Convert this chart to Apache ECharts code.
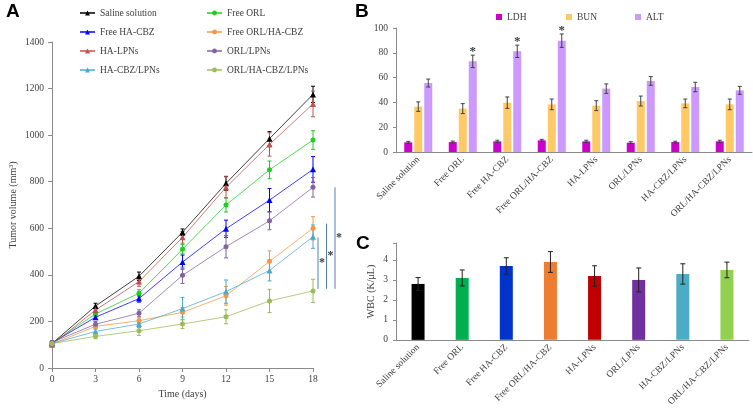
<!DOCTYPE html>
<html><head><meta charset="utf-8">
<script src="https://cdn.jsdelivr.net/npm/echarts@6/dist/echarts.min.js"></script>
<style>html,body{margin:0;padding:0;background:#fff}#c{width:753px;height:409px}</style>
</head><body><div id="c"></div>
<script>
// ---------- Panel A data ----------
const days = [0, 3, 6, 9, 12, 15, 18];
const groupNames = ['Saline solution','Free ORL','Free HA-CBZ','Free ORL/HA-CBZ','HA-LPNs','ORL/LPNs','HA-CBZ/LPNs','ORL/HA-CBZ/LPNs'];
const volSaline       = [105, 266, 394, 583, 793, 985, 1175];
const volFreeORL      = [107, 232, 321, 510, 700, 851, 979];
const volFreeHACBZ    = [108, 218, 298, 455, 598, 721, 853];
const volFreeORLHACBZ = [103, 179, 203, 239, 310, 458, 600];
const volHALPNs       = [100, 249, 371, 561, 776, 960, 1134];
const volORLLPNs      = [110, 188, 235, 398, 521, 632, 776];
const volHACBZLPNs    = [105, 157, 189, 255, 328, 419, 564];
const volORLHACBZLPNs = [105, 136, 160, 189, 220, 288, 331];
const errSaline       = [8, 12, 18, 14, 30, 30, 35];
const errFreeORL      = [8, 10, 15, 20, 30, 38, 40];
const errFreeHACBZ    = [8, 10, 15, 30, 37, 50, 55];
const errFreeORLHACBZ = [8, 10, 12, 20, 40, 45, 50];
const errHALPNs       = [8, 12, 20, 25, 45, 50, 55];
const errORLLPNs      = [8, 12, 15, 35, 48, 38, 42];
const errHACBZLPNs    = [8, 10, 15, 48, 50, 45, 50];
const errORLHACBZLPNs = [8, 10, 20, 20, 30, 50, 50];
// significance brackets at day 18: [low, high]
const sigBrackets = [[340, 560], [340, 620], [340, 776]];
const volTicks = [0, 200, 400, 600, 800, 1000, 1200, 1400];

// ---------- Panel B data ----------
const bioNames = ['LDH', 'BUN', 'ALT'];
const ldh    = [7.8, 8.0, 8.6, 9.4, 8.6, 7.5, 8.0, 8.6];
const ldhErr = [0.8, 0.8, 0.9, 0.8, 0.9, 0.8, 0.7, 0.9];
const bun    = [36.6, 35.0, 39.8, 38.4, 37.4, 41.1, 39.2, 38.4];
const bunErr = [3.8, 4.0, 4.6, 4.3, 4.0, 4.0, 3.5, 4.3];
const alt    = [55.6, 73.1, 81.2, 89.8, 51.1, 57.3, 52.4, 49.7];
const altErr = [3.2, 5.0, 5.0, 5.4, 3.8, 3.5, 3.8, 3.2];
const altSig = ['', '*', '*', '*', '', '', '', ''];

// ---------- Panel C data ----------
const wbc    = [2.8, 3.1, 3.7, 3.9, 3.2, 3.0, 3.3, 3.5];
const wbcErr = [0.32, 0.40, 0.41, 0.52, 0.51, 0.60, 0.51, 0.39];

// ---------- styles ----------
const FONT = 'Liberation Serif';
const TXT = '#404040';
const AX = '#8a8a8a';
const lineColors = ['#000000','#22CC22','#0000FF','#F79646','#C0504D','#8064A2','#4BACC6','#9BBB59'];
const lineSymbols = ['triangle','circle','triangle','circle','triangle','circle','triangle','circle'];
const bioColors = ['#CC00CC', '#FFC966', '#CC99FF'];
const wbcColors = ['#000000','#00B050','#0033CC','#ED7D31','#C00000','#7030A0','#4BACC6','#92D050'];

const volSeries = [volSaline, volFreeORL, volFreeHACBZ, volFreeORLHACBZ, volHALPNs, volORLLPNs, volHACBZLPNs, volORLHACBZLPNs];
const errSeries = [errSaline, errFreeORL, errFreeHACBZ, errFreeORLHACBZ, errHALPNs, errORLLPNs, errHACBZLPNs, errORLHACBZLPNs];

function errRender(color, dx, cap, sigArr) {
  return function (params, api) {
    const x = api.value(0), y = api.value(1), e = api.value(2);
    const t = api.coord([x, y + e]), b = api.coord([x, y - e]);
    const cx = t[0] + dx;
    const st = { stroke: color, lineWidth: 1 };
    const ch = [
      { type: 'line', shape: { x1: cx, y1: t[1], x2: cx, y2: b[1] }, style: st },
      { type: 'line', shape: { x1: cx - cap, y1: t[1], x2: cx + cap, y2: t[1] }, style: st },
      { type: 'line', shape: { x1: cx - cap, y1: b[1], x2: cx + cap, y2: b[1] }, style: st }
    ];
    if (sigArr && sigArr[params.dataIndex]) {
      ch.push({ type: 'text', style: { text: sigArr[params.dataIndex], x: cx, y: t[1] + 3, align: 'center', verticalAlign: 'bottom', fontSize: 13, fontWeight: 'bold', fill: '#404040', fontFamily: FONT } });
    }
    return { type: 'group', children: ch };
  };
}

const series = [];
volSeries.forEach((v, i) => {
  series.push({
    name: groupNames[i], type: 'line', xAxisIndex: 0, yAxisIndex: 0,
    data: days.map((d, k) => [d, v[k]]),
    symbol: lineSymbols[i], symbolSize: lineSymbols[i] === 'triangle' ? 6 : 5,
    itemStyle: { color: lineColors[i] },
    lineStyle: { color: lineColors[i], width: 1, opacity: 0.75 },
    z: 3, animation: false
  });
  series.push({
    name: 'err' + i, type: 'custom', xAxisIndex: 0, yAxisIndex: 0,
    data: days.map((d, k) => [d, v[k], errSeries[i][k]]),
    renderItem: errRender(lineColors[i], 0, 2, null),
    itemStyle: { opacity: 0.6 }, z: 2, animation: false, silent: true
  });
});
// significance brackets
series.push({
  name: 'sig', type: 'custom', xAxisIndex: 0, yAxisIndex: 0,
  data: sigBrackets.map(b => [days[days.length - 1], b[0], b[1]]),
  renderItem: function (params, api) {
    const lo = api.coord([api.value(0), api.value(1)]);
    const hi = api.coord([api.value(0), api.value(2)]);
    const x = lo[0] + 5 + params.dataIndex * 8.5;
    return { type: 'group', children: [
      { type: 'line', shape: { x1: x, y1: lo[1], x2: x, y2: hi[1] }, style: { stroke: '#4F81BD', lineWidth: 1 } },
      { type: 'text', style: { text: '*', x: x + 4, y: (lo[1] + hi[1]) / 2, align: 'center', verticalAlign: 'middle', fontSize: 12, fontWeight: 'bold', fill: '#404040', fontFamily: FONT } }
    ] };
  },
  clip: false, z: 4, animation: false, silent: true
});

// Panel B
const bioVals = [ldh, bun, alt], bioErrs = [ldhErr, bunErr, altErr];
bioNames.forEach((n, j) => {
  series.push({
    name: n, type: 'bar', xAxisIndex: 1, yAxisIndex: 1,
    data: bioVals[j], barWidth: 8, barGap: '25%',
    itemStyle: { color: bioColors[j] }, animation: false
  });
});
bioNames.forEach((n, j) => {
  series.push({
    name: 'berr' + j, type: 'custom', xAxisIndex: 1, yAxisIndex: 1,
    data: bioVals[j].map((v, k) => [k, v, bioErrs[j][k]]),
    renderItem: errRender('#404040', (j - 1) * 10, 2, j === 2 ? altSig : null),
    z: 5, animation: false, silent: true, clip: false
  });
});

// Panel C
series.push({
  name: 'WBC', type: 'bar', xAxisIndex: 2, yAxisIndex: 2,
  data: wbc.map((v, k) => ({ value: v, itemStyle: { color: wbcColors[k] } })),
  barWidth: 13, animation: false
});
series.push({
  name: 'werr', type: 'custom', xAxisIndex: 2, yAxisIndex: 2,
  data: wbc.map((v, k) => [k, v, wbcErr[k]]),
  renderItem: errRender('#202020', 0, 2.5, null),
  z: 5, animation: false, silent: true, clip: false
});

const legendTxt = { fontFamily: FONT, fontSize: 9.5, color: '#404040' };
const col1 = [groupNames[0], groupNames[2], groupNames[4], groupNames[6]];
const col2 = [groupNames[1], groupNames[3], groupNames[5], groupNames[7]];

const catLabel = { fontFamily: FONT, fontSize: 9.5, color: TXT, rotate: 45, margin: 6, interval: 0 };
const letterStyle = { fontFamily: 'Liberation Sans', fontWeight: 'bold', fontSize: 19, color: '#000' };

const option = {
  backgroundColor: '#fff',
  animation: false,
  title: [
    { text: 'A', left: 6, top: 2, padding: 0, textStyle: letterStyle },
    { text: 'B', left: 355, top: 2, padding: 0, textStyle: letterStyle },
    { text: 'C', left: 356, top: 234, padding: 0, textStyle: letterStyle }
  ],
  legend: [
    { data: col1, orient: 'vertical', left: 79, top: 8, padding: 0, itemWidth: 15, itemHeight: 6, itemGap: 9, textStyle: legendTxt, selectedMode: false },
    { data: col2, orient: 'vertical', left: 206, top: 8, padding: 0, itemWidth: 15, itemHeight: 6, itemGap: 9, textStyle: legendTxt, selectedMode: false },
    { data: ['LDH'], left: 496, top: 12, padding: 0, icon: 'rect', itemWidth: 6, itemHeight: 6, textStyle: legendTxt, selectedMode: false },
    { data: ['BUN'], left: 566, top: 12, padding: 0, icon: 'rect', itemWidth: 6, itemHeight: 6, textStyle: legendTxt, selectedMode: false },
    { data: ['ALT'], left: 635, top: 12, padding: 0, icon: 'rect', itemWidth: 6, itemHeight: 6, textStyle: legendTxt, selectedMode: false }
  ],
  grid: [
    { left: 52, top: 42, width: 261, height: 326 },
    { left: 396, top: 28, width: 356, height: 124 },
    { left: 396, top: 243, width: 353, height: 101 }
  ],
  xAxis: [
    { gridIndex: 0, type: 'value', min: 0, max: 18, interval: 3,
      name: 'Time (days)', nameLocation: 'middle', nameGap: 17,
      nameTextStyle: { fontFamily: FONT, fontSize: 10, color: TXT },
      axisLine: { lineStyle: { color: AX } }, axisTick: { show: true, length: 4, lineStyle: { color: AX } },
      axisLabel: { fontFamily: FONT, fontSize: 9.5, color: TXT, margin: 6 }, splitLine: { show: false } },
    { gridIndex: 1, type: 'category', data: groupNames,
      axisLine: { lineStyle: { color: AX } }, axisTick: { show: false },
      axisLabel: catLabel },
    { gridIndex: 2, type: 'category', data: groupNames,
      axisLine: { lineStyle: { color: AX } }, axisTick: { show: false },
      axisLabel: catLabel }
  ],
  yAxis: [
    { gridIndex: 0, type: 'value', min: volTicks[0], max: volTicks[volTicks.length - 1], interval: volTicks[1] - volTicks[0],
      name: 'Tumor volume (mm³)', nameLocation: 'middle', nameGap: 34,
      nameTextStyle: { fontFamily: FONT, fontSize: 10, color: TXT },
      axisLine: { show: true, lineStyle: { color: AX } }, axisTick: { show: true, length: 4, lineStyle: { color: AX } },
      axisLabel: { fontFamily: FONT, fontSize: 9.5, color: TXT, margin: 8, formatter: v => String(v) }, splitLine: { show: false } },
    { gridIndex: 1, type: 'value', min: 0, max: 100, interval: 20,
      axisLine: { show: true, lineStyle: { color: AX } }, axisTick: { show: true, length: 3, lineStyle: { color: AX } },
      axisLabel: { fontFamily: FONT, fontSize: 9.5, color: TXT, margin: 8 }, splitLine: { show: false } },
    { gridIndex: 2, type: 'value', min: 0, max: 4.85, interval: 1,
      name: 'WBC (K/μL)', nameLocation: 'middle', nameGap: 20,
      nameTextStyle: { fontFamily: FONT, fontSize: 10, color: TXT },
      axisLine: { show: true, lineStyle: { color: AX } }, axisTick: { show: true, length: 3, lineStyle: { color: AX } },
      axisLabel: { fontFamily: FONT, fontSize: 9.5, color: TXT, margin: 8, formatter: v => (Number.isInteger(v) ? String(v) : '') },
      splitLine: { show: false } }
  ],
  series: series
};

const chart = echarts.init(document.getElementById('c'), null, { renderer: 'canvas' });
chart.setOption(option);
</script>
</body></html>
